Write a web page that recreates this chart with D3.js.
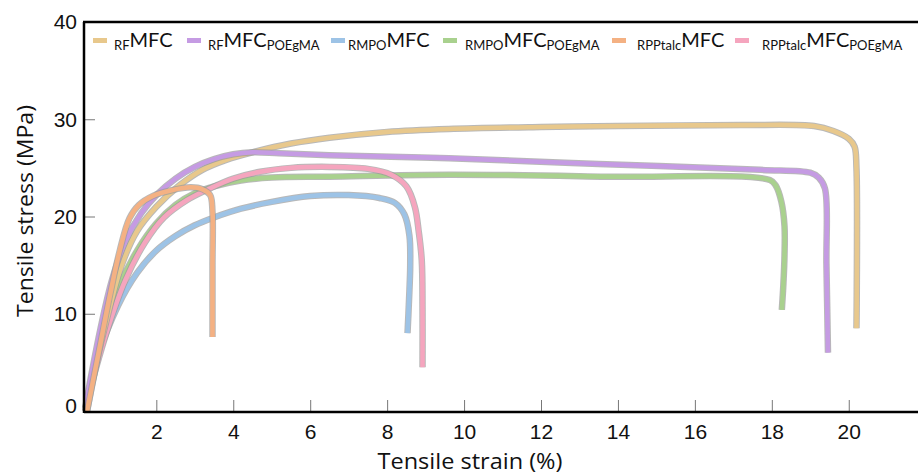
<!DOCTYPE html>
<html>
<head>
<meta charset="utf-8">
<script src="https://cdn.jsdelivr.net/npm/d3@7"></script>
<style>
  body { margin: 0; background: #fff; }
  svg { display: block; font-family: "Open Sans", Lato, sans-serif; }
</style>
</head>
<body>
<div id="chart"></div>
<script>
// Series data: [strain %, stress MPa]
const rfMFC = [[0.2,0],[0.45,5],[0.75,10],[1.1,15],[1.5,18.5],[2,21],[2.6,23.2],[3.2,24.8],[3.8,25.8],[4.5,26.6],[5.5,27.5],[6.5,28.1],[8,28.7],[9.6,29.0],[12,29.2],[14,29.3],[17.2,29.4],[19.1,29.3],[19.6,28.8],[20.0,28.0],[20.15,27.2],[20.2,25],[20.2,8.5]];
const rfMFCPOEgMA = [[0.15,0.3],[0.3,3.5],[0.55,8.5],[0.85,13.5],[1.2,17.5],[1.6,20.3],[2.0,22.2],[2.5,23.9],[3.0,25.1],[3.5,25.9],[4.0,26.4],[4.5,26.6],[5.2,26.5],[6.5,26.3],[9.6,26.0],[13.5,25.4],[17.7,24.8],[19.0,24.5],[19.22,24.0],[19.38,22.9],[19.42,15],[19.46,6]];
const rmpoMFC = [[0.15,0],[0.5,5.8],[1,10.8],[1.5,14.2],[2,16.5],[2.5,18],[3,19.1],[3.5,19.9],[4.2,20.8],[5,21.5],[6,22.1],[7,22.2],[7.8,21.9],[8.2,21.4],[8.45,20.2],[8.58,18],[8.6,15],[8.57,11.5],[8.53,8.0]];
const rmpoMFCPOEgMA = [[0.15,0],[0.5,6.5],[1,12.5],[1.5,16.5],[2,19.3],[2.5,21.2],[3,22.4],[3.5,23.1],[4.2,23.7],[5,24.0],[6.5,24.1],[9.6,24.3],[13.7,24.1],[17.95,23.75],[18.1,23.2],[18.25,21.5],[18.33,19],[18.33,16],[18.3,13],[18.26,10.4]];
const rppMFC = [[0.2,0],[0.5,6],[0.8,12],[1.05,16.5],[1.3,19.8],[1.55,21.2],[1.9,22.1],[2.4,22.7],[2.9,23.0],[3.2,22.8],[3.4,22.2],[3.46,20.5],[3.46,15],[3.46,7.6]];
const rppMFCPOEgMA = [[0.15,0.3],[0.7,8],[1.2,13.5],[1.7,17.3],[2.2,19.9],[2.8,21.7],[3.4,22.9],[4.0,23.9],[4.7,24.6],[5.5,25.0],[6.5,25.1],[7.5,24.9],[8.1,24.3],[8.5,23.1],[8.72,21],[8.82,18.5],[8.9,15.5],[8.92,10.4],[8.92,4.5]];

// Legend labels: prefix subscript, main text, suffix subscript
const legendPrefix = ["RF", "RF", "RMPO", "RMPO", "RPPtalc", "RPPtalc"];
const legendMain = ["MFC", "MFC", "MFC", "MFC", "MFC", "MFC"];
const legendSuffix = ["", "POEgMA", "", "POEgMA", "", "POEgMA"];
const colors = ["#E8C88C", "#C59BE3", "#9DC3E6", "#A9D18E", "#F4B183", "#F5A5BE"];
const seriesData = [rfMFC, rfMFCPOEgMA, rmpoMFC, rmpoMFCPOEgMA, rppMFC, rppMFCPOEgMA];

const xTicks = [2, 4, 6, 8, 10, 12, 14, 16, 18, 20];
const yTicks = [0, 10, 20, 30, 40];

const W = 918, H = 475;
const plotLeft = 84, plotRight = 918, plotTop = 22, plotBottom = 411;

const svg = d3.select("#chart").append("svg")
    .attr("width", W)
    .attr("height", H);

const x = d3.scaleLinear().domain([0.12, 21.8]).range([plotLeft, plotRight]);
const y = d3.scaleLinear().domain([0, 40]).range([plotBottom, plotTop]);

// draw order so that overlaps look like the figure
const drawOrder = [2, 3, 5, 0, 1, 4];
const line = d3.line()
    .x(d => x(d[0]))
    .y(d => y(d[1]))
    .curve(d3.curveCatmullRom.alpha(0.5));

const plot = svg.append("g");
drawOrder.forEach(i => {
    plot.append("path")
        .attr("d", line(seriesData[i]))
        .attr("fill", "none")
        .attr("stroke", "#9a9a9a")
        .attr("stroke-opacity", 0.7)
        .attr("stroke-width", 6.5)
        .attr("stroke-linejoin", "round");
    plot.append("path")
        .attr("d", line(seriesData[i]))
        .attr("fill", "none")
        .attr("stroke", colors[i])
        .attr("stroke-width", 4.6)
        .attr("stroke-linejoin", "round");
});

// x axis (inward ticks)
const xAxis = svg.append("g")
    .attr("transform", `translate(0,${plotBottom + 1})`)
    .call(d3.axisBottom(x).tickValues(xTicks).tickSize(0).tickPadding(0).tickFormat(d3.format("d")));
xAxis.select(".domain").remove();
xAxis.selectAll(".tick line").remove();
xAxis.selectAll(".tick text")
    .attr("y", 27)
    .attr("dy", 0)
    .attr("fill", "#111")
    .style("font-size", "21px");
xAxis.selectAll(".tick").append("line")
    .attr("y1", 0).attr("y2", -12)
    .attr("stroke", "#777").attr("stroke-width", 1);

// y axis (inward ticks)
const yAxis = svg.append("g")
    .attr("transform", `translate(${plotLeft},0)`)
    .call(d3.axisLeft(y).tickValues(yTicks).tickSize(0).tickPadding(7).tickFormat(d3.format("d")));
yAxis.select(".domain").remove();
yAxis.selectAll(".tick line").remove();
yAxis.selectAll(".tick text")
    .attr("fill", "#111")
    .attr("dy", d => d === 0 ? "0.05em" : "0.33em")
    .style("font-size", "21px");
yAxis.selectAll(".tick").filter(d => d > 0 && d < 40).append("line")
    .attr("x1", 0).attr("x2", 11)
    .attr("stroke", "#777").attr("stroke-width", 1);

// frame lines
svg.append("line").attr("x1", plotLeft).attr("x2", plotRight).attr("y1", plotBottom + 1).attr("y2", plotBottom + 1)
    .attr("stroke", "#000").attr("stroke-width", 2.5);
svg.append("line").attr("x1", plotLeft).attr("x2", plotLeft).attr("y1", plotTop).attr("y2", plotBottom + 2)
    .attr("stroke", "#000").attr("stroke-width", 2.5);
svg.append("line").attr("x1", plotLeft - 1).attr("x2", plotRight).attr("y1", plotTop).attr("y2", plotTop)
    .attr("stroke", "#000").attr("stroke-width", 2.5);

// axis titles
svg.append("text")
    .attr("x", 470).attr("y", 469)
    .attr("text-anchor", "middle")
    .attr("fill", "#111")
    .attr("textLength", 185)
    .attr("lengthAdjust", "spacingAndGlyphs")
    .style("font-size", "21px")
    .text("Tensile strain (%)");

svg.append("text")
    .attr("transform", "translate(33,211) rotate(-90)")
    .attr("text-anchor", "middle")
    .attr("fill", "#111")
    .attr("textLength", 212)
    .attr("lengthAdjust", "spacingAndGlyphs")
    .style("font-size", "21px")
    .text("Tensile stress (MPa)");

// legend
const legendSwatchX = [93, 187, 331, 443, 612, 735];
const legendTextX = [114, 208, 348, 465, 637, 762];
const legend = svg.append("g").style("font-family", "Lato, 'Open Sans', sans-serif");
legendPrefix.forEach((p, i) => {
    legend.append("rect")
        .attr("x", legendSwatchX[i]).attr("y", 38)
        .attr("width", 14).attr("height", 5)
        .attr("fill", colors[i]);
    const t = legend.append("text")
        .attr("x", legendTextX[i]).attr("y", 50)
        .attr("fill", "#111");
    t.append("tspan").style("font-size", "13px").text(p);
    t.append("tspan").attr("dy", -3).style("font-size", "20px").text(legendMain[i]);
    if (legendSuffix[i]) {
        t.append("tspan").attr("dy", 3).style("font-size", "13px").text(legendSuffix[i]);
    }
});
</script>
</body>
</html>
